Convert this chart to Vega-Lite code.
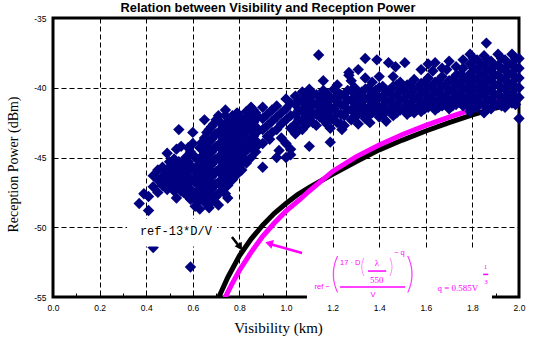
{
"$schema": "https://vega.github.io/schema/vega-lite/v6.json",
"width": 466, "height": 279,
"autosize": {"type": "none"},
"padding": {"left": 53, "top": 18, "right": 26, "bottom": 44},
"background": "white",
"title": {"text": "Relation between Visibility and Reception Power", "font": "Liberation Sans", "fontSize": 12.8, "fontWeight": "bold", "color": "black", "anchor": "middle", "offset": -1, "dx": -18},
"config": {"view": {"stroke": "black", "strokeWidth": 3}},
"encoding": {
  "x": {"field": "v", "type": "quantitative",
    "scale": {"domain": [0, 2], "nice": false, "zero": false},
    "axis": {"title": "Visibility (km)", "titleFont": "Liberation Serif", "titleFontSize": 15, "titleFontWeight": "normal", "titleColor": "black", "titleX": 225, "titleY": 35, "titleBaseline": "alphabetic",
      "values": [0,0.1,0.2,0.3,0.4,0.5,0.6,0.7,0.8,0.9,1,1.1,1.2,1.3,1.4,1.5,1.6,1.7,1.8,1.9,2],
      "labelExpr": "round(datum.value*10)%2==0 ? format(datum.value,'.1f') : ''",
      "labelFont": "Liberation Sans", "labelFontSize": 8.5, "labelColor": "black", "labelPadding": 10, "labelFlush": false, "labelOverlap": false,
      "tickSize": -4, "tickColor": "black", "tickWidth": 1, "domain": false,
      "grid": true, "gridColor": "black", "gridDash": [5, 3], "gridWidth": 1,
      "gridOpacity": {"condition": {"test": "round(datum.value*10)%2==0", "value": 1}, "value": 0}}},
  "y": {"field": "p", "type": "quantitative",
    "scale": {"domain": [-55, -35], "nice": false, "zero": false},
    "axis": {"title": "Reception Power (dBm)", "titleFont": "Liberation Serif", "titleFontSize": 14, "titleFontWeight": "normal", "titleColor": "black", "titleX": -40, "titleY": 146, "titleAngle": -90, "titleAlign": "center", "titleBaseline": "middle",
      "values": [-55, -50, -45, -40, -35], "labelExpr": "'' + datum.value",
      "labelFont": "Liberation Sans", "labelFontSize": 8.5, "labelColor": "black", "labelPadding": 7, "labelFlush": false,
      "ticks": false, "domain": false,
      "grid": true, "gridColor": "black", "gridDash": [5, 3], "gridWidth": 1}}
},
"datasets": {
  "blk": [{"v":0.69,"p":-55.8},{"v":0.712,"p":-55.0},{"v":0.75,"p":-53.6},{"v":0.8,"p":-52.05},{"v":0.85,"p":-50.85},{"v":0.9,"p":-49.85},{"v":0.95,"p":-49.0},{"v":1.0,"p":-48.3},{"v":1.05,"p":-47.65},{"v":1.1,"p":-47.15},{"v":1.2,"p":-46.2},{"v":1.3,"p":-45.3},{"v":1.4,"p":-44.45},{"v":1.5,"p":-43.75},{"v":1.6,"p":-43.1},{"v":1.7,"p":-42.5},{"v":1.8,"p":-41.95},{"v":1.9,"p":-41.45},{"v":2.0,"p":-41.0}],
  "mag": [{"v":0.73,"p":-55.5},{"v":0.74,"p":-55.0},{"v":0.77,"p":-54.0},{"v":0.8,"p":-53.1},{"v":0.85,"p":-51.8},{"v":0.9,"p":-50.65},{"v":0.95,"p":-49.7},{"v":1.0,"p":-48.85},{"v":1.06,"p":-48.0},{"v":1.1,"p":-47.4},{"v":1.2,"p":-46.0},{"v":1.3,"p":-44.95},{"v":1.4,"p":-44.1},{"v":1.5,"p":-43.35},{"v":1.6,"p":-42.7},{"v":1.7,"p":-42.1},{"v":1.8,"p":-41.55},{"v":1.9,"p":-41.0},{"v":2.0,"p":-40.45}],
  "pts": [
{"v":0.37,"p":-48.3},{"v":0.39,"p":-47.6},{"v":0.41,"p":-47.8},{"v":0.41,"p":-48.8},{"v":0.43,"p":-47.1},{"v":0.43,"p":-46.3},{"v":0.45,"p":-46.6},{"v":0.45,"p":-47.5},{"v":0.45,"p":-45.9},{"v":0.47,"p":-45.7},{"v":0.47,"p":-46.4},{"v":0.47,"p":-47.0},{"v":0.49,"p":-44.7},{"v":0.49,"p":-45.9},{"v":0.49,"p":-46.8},{"v":0.49,"p":-47.3},{"v":0.51,"p":-46.2},{"v":0.51,"p":-46.9},{"v":0.51,"p":-45.5},{"v":0.53,"p":-47.9},{"v":0.53,"p":-46.5},{"v":0.53,"p":-45.8},{"v":0.53,"p":-44.4},{"v":0.54,"p":-43.0},{"v":0.55,"p":-44.2},{"v":0.55,"p":-46.0},{"v":0.55,"p":-46.9},{"v":0.55,"p":-47.4},{"v":0.57,"p":-45.3},{"v":0.57,"p":-46.3},{"v":0.57,"p":-47.0},{"v":0.57,"p":-45.0},{"v":0.59,"p":-44.6},{"v":0.59,"p":-45.6},{"v":0.59,"p":-46.5},{"v":0.59,"p":-47.3},{"v":0.59,"p":-48.0},{"v":0.60,"p":-43.2},{"v":0.60,"p":-44.0},{"v":0.61,"p":-45.0},{"v":0.61,"p":-46.0},{"v":0.61,"p":-46.8},{"v":0.61,"p":-47.7},{"v":0.61,"p":-48.5},{"v":0.63,"p":-44.3},{"v":0.63,"p":-45.2},{"v":0.63,"p":-46.2},{"v":0.63,"p":-47.0},{"v":0.63,"p":-47.9},{"v":0.63,"p":-48.7},{"v":0.65,"p":-42.3},{"v":0.65,"p":-43.6},{"v":0.65,"p":-44.5},{"v":0.65,"p":-45.5},{"v":0.65,"p":-46.4},{"v":0.65,"p":-47.3},{"v":0.65,"p":-48.2},{"v":0.67,"p":-43.0},{"v":0.67,"p":-43.9},{"v":0.67,"p":-44.8},{"v":0.67,"p":-45.8},{"v":0.67,"p":-46.7},{"v":0.67,"p":-47.6},{"v":0.67,"p":-48.6},{"v":0.69,"p":-42.6},{"v":0.69,"p":-43.5},{"v":0.69,"p":-44.4},{"v":0.69,"p":-45.3},{"v":0.69,"p":-46.2},{"v":0.69,"p":-47.0},{"v":0.69,"p":-47.9},{"v":0.71,"p":-42.0},{"v":0.71,"p":-43.2},{"v":0.71,"p":-44.1},{"v":0.71,"p":-45.0},{"v":0.71,"p":-45.9},{"v":0.71,"p":-46.8},{"v":0.71,"p":-47.6},{"v":0.71,"p":-48.4},{"v":0.73,"p":-42.8},{"v":0.73,"p":-43.7},{"v":0.73,"p":-44.6},{"v":0.73,"p":-45.5},{"v":0.73,"p":-46.4},{"v":0.73,"p":-47.3},{"v":0.74,"p":-41.6},{"v":0.75,"p":-42.4},{"v":0.75,"p":-43.3},{"v":0.75,"p":-44.3},{"v":0.75,"p":-45.2},{"v":0.75,"p":-46.1},{"v":0.75,"p":-47.0},{"v":0.75,"p":-47.9},{"v":0.77,"p":-42.0},{"v":0.77,"p":-43.0},{"v":0.77,"p":-43.9},{"v":0.77,"p":-44.8},{"v":0.77,"p":-45.7},{"v":0.77,"p":-46.6},{"v":0.79,"p":-41.8},{"v":0.79,"p":-42.6},{"v":0.79,"p":-43.5},{"v":0.79,"p":-44.5},{"v":0.79,"p":-45.3},{"v":0.79,"p":-46.2},{"v":0.81,"p":-42.2},{"v":0.81,"p":-43.2},{"v":0.81,"p":-44.1},{"v":0.81,"p":-45.0},{"v":0.81,"p":-45.9},{"v":0.83,"p":-41.7},{"v":0.83,"p":-42.7},{"v":0.83,"p":-43.7},{"v":0.83,"p":-44.5},{"v":0.83,"p":-45.4},{"v":0.85,"p":-41.4},{"v":0.85,"p":-42.3},{"v":0.85,"p":-43.2},{"v":0.85,"p":-44.2},{"v":0.85,"p":-45.0},{"v":0.87,"p":-41.8},{"v":0.87,"p":-42.8},{"v":0.87,"p":-43.8},{"v":0.87,"p":-44.6},{"v":0.90,"p":-41.4},{"v":0.90,"p":-42.2},{"v":0.90,"p":-43.0},{"v":0.90,"p":-44.0},{"v":0.90,"p":-45.7},{"v":0.92,"p":-41.9},{"v":0.92,"p":-42.7},{"v":0.92,"p":-43.5},{"v":0.93,"p":-43.7},{"v":0.94,"p":-41.6},{"v":0.94,"p":-42.4},{"v":0.94,"p":-43.2},{"v":0.96,"p":-41.3},{"v":0.96,"p":-42.1},{"v":0.96,"p":-43.0},{"v":0.96,"p":-45.0},{"v":0.97,"p":-44.5},{"v":0.98,"p":-41.8},{"v":0.98,"p":-42.6},{"v":0.98,"p":-43.6},{"v":1.00,"p":-40.8},{"v":1.00,"p":-41.5},{"v":1.00,"p":-42.3},{"v":1.00,"p":-44.0},{"v":1.00,"p":-45.0},{"v":1.02,"p":-41.1},{"v":1.02,"p":-42.0},{"v":1.02,"p":-42.9},{"v":1.02,"p":-44.4},{"v":1.02,"p":-44.8},
{"v":0.60,"p":-44.8},{"v":0.60,"p":-45.8},{"v":0.60,"p":-46.6},{"v":0.60,"p":-47.5},{"v":0.62,"p":-45.6},{"v":0.62,"p":-46.6},{"v":0.62,"p":-47.4},{"v":0.62,"p":-48.2},{"v":0.64,"p":-43.9},{"v":0.64,"p":-44.9},{"v":0.64,"p":-45.9},{"v":0.64,"p":-46.8},{"v":0.64,"p":-47.7},{"v":0.66,"p":-43.2},{"v":0.66,"p":-44.2},{"v":0.66,"p":-45.1},{"v":0.66,"p":-46.0},{"v":0.66,"p":-46.9},{"v":0.66,"p":-47.9},{"v":0.68,"p":-42.8},{"v":0.68,"p":-43.7},{"v":0.68,"p":-44.6},{"v":0.68,"p":-45.5},{"v":0.68,"p":-46.4},{"v":0.68,"p":-47.3},{"v":0.68,"p":-48.2},{"v":0.70,"p":-42.3},{"v":0.70,"p":-43.3},{"v":0.70,"p":-44.2},{"v":0.70,"p":-45.1},{"v":0.70,"p":-46.0},{"v":0.70,"p":-46.9},{"v":0.70,"p":-47.8},{"v":0.72,"p":-42.5},{"v":0.72,"p":-43.4},{"v":0.72,"p":-44.3},{"v":0.72,"p":-45.2},{"v":0.72,"p":-46.1},{"v":0.72,"p":-47.0},{"v":0.74,"p":-42.0},{"v":0.74,"p":-43.0},{"v":0.74,"p":-44.0},{"v":0.74,"p":-44.9},{"v":0.74,"p":-45.8},{"v":0.74,"p":-46.7},{"v":0.74,"p":-47.6},{"v":0.76,"p":-42.7},{"v":0.76,"p":-43.6},{"v":0.76,"p":-44.5},{"v":0.76,"p":-45.4},{"v":0.76,"p":-46.3},{"v":0.78,"p":-42.3},{"v":0.78,"p":-43.2},{"v":0.78,"p":-44.1},{"v":0.78,"p":-45.0},{"v":0.78,"p":-45.9},{"v":0.80,"p":-42.0},{"v":0.80,"p":-42.9},{"v":0.80,"p":-43.8},{"v":0.80,"p":-44.7},{"v":0.80,"p":-45.6},{"v":0.82,"p":-42.4},{"v":0.82,"p":-43.3},{"v":0.82,"p":-44.2},{"v":0.82,"p":-45.1},{"v":0.84,"p":-42.0},{"v":0.84,"p":-42.9},{"v":0.84,"p":-43.8},{"v":0.86,"p":-41.6},{"v":0.86,"p":-42.5},{"v":0.86,"p":-43.5},{"v":0.88,"p":-42.1},{"v":0.88,"p":-43.1},{"v":0.88,"p":-44.1},{"v":0.48,"p":-46.2},{"v":0.48,"p":-47.0},{"v":0.50,"p":-45.3},{"v":0.50,"p":-46.5},{"v":0.52,"p":-45.1},{"v":0.52,"p":-46.7},{"v":0.52,"p":-47.4},{"v":0.54,"p":-45.3},{"v":0.54,"p":-46.2},{"v":0.54,"p":-47.1},{"v":0.56,"p":-45.6},{"v":0.56,"p":-46.6},{"v":0.56,"p":-47.5},{"v":0.58,"p":-44.3},{"v":0.58,"p":-45.3},{"v":0.58,"p":-46.0},{"v":0.58,"p":-46.9},{"v":0.58,"p":-47.8},
{"v":1.04,"p":-40.6},{"v":1.04,"p":-41.2},{"v":1.04,"p":-41.9},{"v":1.04,"p":-42.6},{"v":1.04,"p":-43.3},{"v":1.07,"p":-40.3},{"v":1.07,"p":-41.0},{"v":1.07,"p":-41.7},{"v":1.07,"p":-42.4},{"v":1.07,"p":-43.0},{"v":1.10,"p":-40.8},{"v":1.10,"p":-41.5},{"v":1.10,"p":-42.2},{"v":1.10,"p":-44.2},{"v":1.10,"p":-40.1},{"v":1.13,"p":-40.5},{"v":1.13,"p":-41.2},{"v":1.13,"p":-41.9},{"v":1.13,"p":-42.7},{"v":1.14,"p":-37.65},{"v":1.16,"p":-40.2},{"v":1.16,"p":-40.9},{"v":1.16,"p":-41.6},{"v":1.16,"p":-42.3},{"v":1.16,"p":-39.5},{"v":1.19,"p":-40.7},{"v":1.19,"p":-41.4},{"v":1.19,"p":-42.1},{"v":1.19,"p":-42.9},{"v":1.19,"p":-43.9},{"v":1.22,"p":-40.3},{"v":1.22,"p":-41.0},{"v":1.22,"p":-41.8},{"v":1.22,"p":-42.5},{"v":1.22,"p":-39.8},{"v":1.24,"p":-43.0},{"v":1.25,"p":-40.6},{"v":1.25,"p":-41.3},{"v":1.25,"p":-42.0},{"v":1.25,"p":-42.7},{"v":1.27,"p":-38.9},{"v":1.27,"p":-39.1},{"v":1.28,"p":-40.2},{"v":1.28,"p":-40.9},{"v":1.28,"p":-41.6},{"v":1.28,"p":-42.3},{"v":1.28,"p":-39.5},{"v":1.31,"p":-38.7},{"v":1.31,"p":-40.5},{"v":1.31,"p":-41.2},{"v":1.31,"p":-41.9},{"v":1.31,"p":-42.6},{"v":1.34,"p":-37.9},{"v":1.34,"p":-40.1},{"v":1.34,"p":-40.8},{"v":1.34,"p":-41.5},{"v":1.34,"p":-42.2},{"v":1.34,"p":-39.3},{"v":1.36,"p":-42.5},{"v":1.37,"p":-40.4},{"v":1.37,"p":-41.1},{"v":1.37,"p":-41.8},{"v":1.37,"p":-39.6},{"v":1.39,"p":-38.0},{"v":1.40,"p":-40.0},{"v":1.40,"p":-40.7},{"v":1.40,"p":-41.4},{"v":1.40,"p":-42.1},{"v":1.40,"p":-39.2},{"v":1.43,"p":-40.3},{"v":1.43,"p":-41.0},{"v":1.43,"p":-41.7},{"v":1.43,"p":-42.4},{"v":1.44,"p":-38.2},{"v":1.46,"p":-39.9},{"v":1.46,"p":-40.6},{"v":1.46,"p":-41.3},{"v":1.46,"p":-42.0},{"v":1.46,"p":-39.2},{"v":1.47,"p":-38.5},{"v":1.49,"p":-40.2},{"v":1.49,"p":-40.9},{"v":1.49,"p":-41.6},{"v":1.49,"p":-39.6},{"v":1.51,"p":-38.2},{"v":1.52,"p":-39.8},{"v":1.52,"p":-40.5},{"v":1.52,"p":-41.2},{"v":1.52,"p":-41.9},{"v":1.55,"p":-40.1},{"v":1.55,"p":-40.8},{"v":1.55,"p":-41.5},{"v":1.55,"p":-41.8},{"v":1.55,"p":-39.4},{"v":1.58,"p":-39.7},{"v":1.58,"p":-40.4},{"v":1.58,"p":-41.1},{"v":1.58,"p":-41.7},{"v":1.58,"p":-38.7},{"v":1.61,"p":-40.0},{"v":1.61,"p":-40.7},{"v":1.61,"p":-41.4},{"v":1.61,"p":-39.3},{"v":1.61,"p":-38.3},{"v":1.64,"p":-39.6},{"v":1.64,"p":-40.3},{"v":1.64,"p":-41.0},{"v":1.64,"p":-41.6},{"v":1.64,"p":-38.2},{"v":1.67,"p":-39.9},{"v":1.67,"p":-40.6},{"v":1.67,"p":-41.3},{"v":1.67,"p":-38.6},{"v":1.67,"p":-39.2},{"v":1.70,"p":-39.5},{"v":1.70,"p":-40.2},{"v":1.70,"p":-40.9},{"v":1.70,"p":-41.5},{"v":1.70,"p":-38.1},{"v":1.73,"p":-39.8},{"v":1.73,"p":-40.5},{"v":1.73,"p":-41.2},{"v":1.73,"p":-38.5},{"v":1.73,"p":-39.1},{"v":1.76,"p":-39.4},{"v":1.76,"p":-40.1},{"v":1.76,"p":-40.8},{"v":1.76,"p":-41.3},{"v":1.76,"p":-38.0},{"v":1.76,"p":-38.6},
{"v":1.055,"p":-40.9},{"v":1.055,"p":-41.6},{"v":1.055,"p":-42.3},{"v":1.055,"p":-43.0},{"v":1.085,"p":-40.6},{"v":1.085,"p":-41.3},{"v":1.085,"p":-42.0},{"v":1.085,"p":-42.7},{"v":1.115,"p":-40.4},{"v":1.115,"p":-41.1},{"v":1.115,"p":-41.8},{"v":1.115,"p":-42.5},{"v":1.145,"p":-40.7},{"v":1.145,"p":-41.4},{"v":1.145,"p":-42.1},{"v":1.175,"p":-40.4},{"v":1.175,"p":-41.1},{"v":1.175,"p":-41.8},{"v":1.175,"p":-42.6},{"v":1.205,"p":-40.1},{"v":1.205,"p":-40.8},{"v":1.205,"p":-41.5},{"v":1.205,"p":-42.3},{"v":1.235,"p":-40.5},{"v":1.235,"p":-41.2},{"v":1.235,"p":-41.9},{"v":1.235,"p":-42.6},{"v":1.265,"p":-40.2},{"v":1.265,"p":-40.9},{"v":1.265,"p":-41.6},{"v":1.295,"p":-40.0},{"v":1.295,"p":-40.7},{"v":1.295,"p":-41.4},{"v":1.295,"p":-42.1},{"v":1.325,"p":-40.3},{"v":1.325,"p":-41.0},{"v":1.325,"p":-41.7},{"v":1.355,"p":-40.0},{"v":1.355,"p":-40.7},{"v":1.355,"p":-41.4},{"v":1.355,"p":-42.0},{"v":1.385,"p":-40.2},{"v":1.385,"p":-40.9},{"v":1.385,"p":-41.6},{"v":1.415,"p":-39.9},{"v":1.415,"p":-40.6},{"v":1.415,"p":-41.3},{"v":1.415,"p":-41.9},{"v":1.445,"p":-40.2},{"v":1.445,"p":-40.9},{"v":1.445,"p":-41.6},{"v":1.475,"p":-39.8},{"v":1.475,"p":-40.5},{"v":1.475,"p":-41.2},{"v":1.475,"p":-41.8},{"v":1.505,"p":-40.1},{"v":1.505,"p":-40.8},{"v":1.505,"p":-41.5},{"v":1.535,"p":-39.7},{"v":1.535,"p":-40.4},{"v":1.535,"p":-41.1},{"v":1.535,"p":-41.7},{"v":1.565,"p":-40.0},{"v":1.565,"p":-40.7},{"v":1.565,"p":-41.4},{"v":1.595,"p":-39.6},{"v":1.595,"p":-40.3},{"v":1.595,"p":-41.0},{"v":1.595,"p":-41.5},{"v":1.625,"p":-39.9},{"v":1.625,"p":-40.6},{"v":1.625,"p":-41.2},{"v":1.655,"p":-39.5},{"v":1.655,"p":-40.2},{"v":1.655,"p":-40.9},{"v":1.655,"p":-41.4},{"v":1.685,"p":-39.8},{"v":1.685,"p":-40.5},{"v":1.685,"p":-41.1},{"v":1.715,"p":-39.4},{"v":1.715,"p":-40.1},{"v":1.715,"p":-40.8},{"v":1.715,"p":-41.3},{"v":1.745,"p":-39.7},{"v":1.745,"p":-40.4},{"v":1.745,"p":-41.0},{"v":1.775,"p":-39.3},{"v":1.775,"p":-40.0},{"v":1.775,"p":-40.7},{"v":1.775,"p":-41.2},{"v":1.63,"p":-38.8},{"v":1.69,"p":-38.7},{"v":1.75,"p":-39.0},
{"v":1.79,"p":-37.6},{"v":1.79,"p":-38.3},{"v":1.79,"p":-39.0},{"v":1.79,"p":-39.7},{"v":1.79,"p":-40.4},{"v":1.79,"p":-41.1},{"v":1.79,"p":-41.7},{"v":1.82,"p":-38.0},{"v":1.82,"p":-38.7},{"v":1.82,"p":-39.4},{"v":1.82,"p":-40.1},{"v":1.82,"p":-40.8},{"v":1.82,"p":-41.4},{"v":1.85,"p":-37.7},{"v":1.85,"p":-38.4},{"v":1.85,"p":-39.1},{"v":1.85,"p":-39.8},{"v":1.85,"p":-40.5},{"v":1.85,"p":-41.2},{"v":1.85,"p":-41.8},{"v":1.86,"p":-36.8},{"v":1.88,"p":-38.1},{"v":1.88,"p":-38.8},{"v":1.88,"p":-39.5},{"v":1.88,"p":-40.2},{"v":1.88,"p":-40.9},{"v":1.88,"p":-41.5},{"v":1.91,"p":-37.6},{"v":1.91,"p":-38.4},{"v":1.91,"p":-39.1},{"v":1.91,"p":-39.8},{"v":1.91,"p":-40.5},{"v":1.91,"p":-41.2},{"v":1.94,"p":-38.0},{"v":1.94,"p":-38.7},{"v":1.94,"p":-39.4},{"v":1.94,"p":-40.1},{"v":1.94,"p":-40.8},{"v":1.94,"p":-41.4},{"v":1.97,"p":-37.6},{"v":1.97,"p":-38.3},{"v":1.97,"p":-39.0},{"v":1.97,"p":-39.7},{"v":1.97,"p":-40.4},{"v":1.97,"p":-41.1},{"v":2.0,"p":-37.9},{"v":2.0,"p":-38.6},{"v":2.0,"p":-39.3},{"v":2.0,"p":-40.0},{"v":2.0,"p":-40.7},{"v":2.0,"p":-42.2},
{"v":1.805,"p":-37.9},{"v":1.805,"p":-38.6},{"v":1.805,"p":-39.3},{"v":1.805,"p":-40.0},{"v":1.805,"p":-40.7},{"v":1.805,"p":-41.3},{"v":1.835,"p":-38.3},{"v":1.835,"p":-39.0},{"v":1.835,"p":-39.7},{"v":1.835,"p":-40.4},{"v":1.835,"p":-41.1},{"v":1.865,"p":-38.0},{"v":1.865,"p":-38.7},{"v":1.865,"p":-39.4},{"v":1.865,"p":-40.1},{"v":1.865,"p":-40.8},{"v":1.865,"p":-41.5},{"v":1.895,"p":-38.4},{"v":1.895,"p":-39.1},{"v":1.895,"p":-39.8},{"v":1.895,"p":-40.5},{"v":1.895,"p":-41.1},{"v":1.925,"p":-37.9},{"v":1.925,"p":-38.6},{"v":1.925,"p":-39.3},{"v":1.925,"p":-40.0},{"v":1.925,"p":-40.7},{"v":1.925,"p":-41.3},{"v":1.955,"p":-38.3},{"v":1.955,"p":-39.0},{"v":1.955,"p":-39.7},{"v":1.955,"p":-40.4},{"v":1.955,"p":-41.0},{"v":1.985,"p":-37.9},{"v":1.985,"p":-38.6},{"v":1.985,"p":-39.3},{"v":1.985,"p":-40.0},{"v":1.985,"p":-40.7},{"v":1.985,"p":-41.2},
{"v":0.43,"p":-51.45},{"v":0.59,"p":-52.85}
  ],
  "boxes": [{"v":0.318,"v2":0.704,"p":-49.41,"p2":-51.38},{"v":1.09,"v2":1.884,"p":-51.63,"p2":-55.3}],
  "lbl": [{"v":0.373,"p":-50.3,"t":"ref-13*D/V"}],
  "fsans": [{"v":1.155,"p":-54.28,"t":"ref −"},{"v":1.276,"p":-52.56,"t":"17 · D"},{"v":1.373,"p":-54.86,"t":"V"},{"v":1.487,"p":-51.85,"t":"− q"}],
  "fserif": [{"v":1.39,"p":-52.56,"t":"λ"},{"v":1.39,"p":-53.78,"t":"550"},{"v":1.738,"p":-54.35,"t":"q = 0.585V"}],
  "fexp": [{"v":1.856,"p":-52.85,"t":"1"},{"v":1.858,"p":-53.92,"t":"3"}],
  "fbig": [{"v":1.208,"p":-53.42,"t":"("},{"v":1.536,"p":-53.42,"t":")"}],
  "fmid": [{"v":1.328,"p":-52.85,"t":"("},{"v":1.452,"p":-52.85,"t":")"}],
  "bars": [{"v":1.232,"v2":1.511,"p":-54.28},{"v":1.352,"v2":1.43,"p":-53.14},{"v":1.846,"v2":1.868,"p":-53.38}],
  "barrow": [{"v":0.768,"p":-50.70,"v2":0.798,"p2":-51.34}],
  "marrow": [{"v":1.069,"p":-51.85,"v2":0.931,"p2":-51.2}],
  "bhead": [{"v":0.803,"p":-51.42}],
  "mhead": [{"v":0.927,"p":-51.15}]
},
"layer": [
  {"data": {"name": "blk"}, "mark": {"type": "line", "color": "black", "strokeWidth": 5, "clip": true}},
  {"data": {"name": "mag"}, "mark": {"type": "line", "color": "#FF00FF", "strokeWidth": 5, "clip": true}},
  {"data": {"name": "pts"}, "mark": {"type": "point", "shape": "diamond", "filled": true, "size": 130, "color": "#000080", "opacity": 1, "strokeWidth": 0}},
  {"data": {"name": "boxes"}, "mark": {"type": "rect", "color": "white", "opacity": 1}, "encoding": {"x2": {"field": "v2"}, "y2": {"field": "p2"}}},
  {"data": {"name": "lbl"}, "mark": {"type": "text", "font": "Liberation Mono", "fontSize": 12, "color": "black", "align": "left", "baseline": "middle"}, "encoding": {"text": {"field": "t"}}},
  {"data": {"name": "fsans"}, "mark": {"type": "text", "font": "Liberation Sans", "fontSize": 7.5, "color": "#FF00FF", "align": "center", "baseline": "middle"}, "encoding": {"text": {"field": "t"}}},
  {"data": {"name": "fserif"}, "mark": {"type": "text", "font": "Liberation Serif", "fontSize": 9, "color": "#FF00FF", "align": "center", "baseline": "middle"}, "encoding": {"text": {"field": "t"}}},
  {"data": {"name": "fexp"}, "mark": {"type": "text", "font": "Liberation Serif", "fontSize": 7, "color": "#FF00FF", "align": "center", "baseline": "middle"}, "encoding": {"text": {"field": "t"}}},
  {"data": {"name": "fbig"}, "mark": {"type": "text", "font": "Inter", "fontWeight": 100, "fontSize": 40, "color": "#FF00FF", "align": "center", "baseline": "middle"}, "encoding": {"text": {"field": "t"}}},
  {"data": {"name": "fmid"}, "mark": {"type": "text", "font": "Inter", "fontWeight": 100, "fontSize": 20, "color": "#FF00FF", "align": "center", "baseline": "middle"}, "encoding": {"text": {"field": "t"}}},
  {"data": {"name": "bars"}, "mark": {"type": "rule", "color": "#FF00FF", "strokeWidth": 1.5}, "encoding": {"x2": {"field": "v2"}}},
  {"data": {"name": "barrow"}, "mark": {"type": "rule", "color": "black", "strokeWidth": 2.5}, "encoding": {"x2": {"field": "v2"}, "y2": {"field": "p2"}}},
  {"data": {"name": "marrow"}, "mark": {"type": "rule", "color": "#FF00FF", "strokeWidth": 2.5}, "encoding": {"x2": {"field": "v2"}, "y2": {"field": "p2"}}},
  {"data": {"name": "bhead"}, "mark": {"type": "point", "shape": "triangle-up", "filled": true, "size": 70, "color": "black", "opacity": 1, "strokeWidth": 0, "angle": 148}},
  {"data": {"name": "mhead"}, "mark": {"type": "point", "shape": "triangle-up", "filled": true, "size": 80, "color": "#FF00FF", "opacity": 1, "strokeWidth": 0, "angle": 286}}
]
}
